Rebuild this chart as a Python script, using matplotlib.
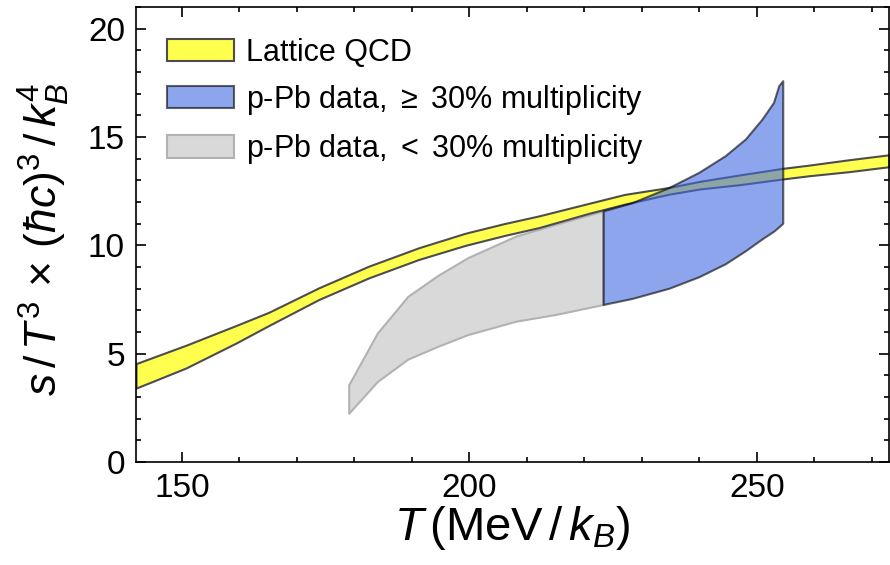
import numpy as np
import matplotlib
matplotlib.use("Agg")
import matplotlib.pyplot as plt
from matplotlib.ticker import MultipleLocator

plt.rcParams['font.family'] = ['Liberation Sans', 'DejaVu Sans']
plt.rcParams['mathtext.fontset'] = 'custom'
plt.rcParams['mathtext.rm'] = 'Liberation Sans'
plt.rcParams['mathtext.it'] = 'Liberation Sans:italic'
plt.rcParams['mathtext.bf'] = 'Liberation Sans:bold'
plt.rcParams['mathtext.fallback'] = 'stixsans'

# Lattice QCD band
lqcd_T = [142, 150.7, 159.4, 165.1, 173.8, 182.5, 191.2, 199.3, 206, 212.1,
          220.8, 227, 234.7, 240, 247, 254.4, 259, 266, 273]
lqcd_hi = [4.54, 5.39, 6.30, 6.91, 8.04, 9.04, 9.89, 10.56, 11.0, 11.36,
           11.94, 12.35, 12.67, 12.95, 13.25, 13.55, 13.70, 13.95, 14.18]
lqcd_lo = [3.41, 4.34, 5.49, 6.30, 7.50, 8.50, 9.35, 10.0, 10.45, 10.82,
           11.48, 11.90, 12.36, 12.60, 12.80, 13.06, 13.21, 13.40, 13.63]

# p-Pb data, >= 30% multiplicity
hi_T = [223.25, 228.3, 234.7, 239.9, 244.5, 248.0, 250.9, 252.9, 253.8, 254.5]
hi_up = [11.59, 11.97, 12.67, 13.37, 14.14, 14.91, 15.83, 16.6, 17.37, 17.6]
hi_lo = [7.27, 7.55, 8.02, 8.55, 9.15, 9.75, 10.3, 10.65, 10.85, 11.02]

# p-Pb data, < 30% multiplicity
lo_T = [179.0, 184.0, 189.3, 194.5, 199.7, 208.1, 215.0, 223.25]
lo_up = [3.56, 5.96, 7.65, 8.61, 9.43, 10.43, 10.97, 11.59]
lo_lo = [2.25, 3.72, 4.75, 5.34, 5.88, 6.50, 6.81, 7.27]

fig = plt.figure(figsize=(8.9, 5.65), dpi=100)
ax = fig.add_axes([0.1528, 0.1823, 0.8462, 0.8053])

ax.fill_between(lqcd_T, lqcd_lo, lqcd_hi, facecolor='#ffff4d',
                edgecolor='#4d4d4d', linewidth=1.5, label='Lattice QCD', zorder=2)
ax.fill_between(lo_T, lo_lo, lo_up, facecolor='#d9d9d9', edgecolor='#b2b2b2',
                linewidth=1.5, label=r'p-Pb data, $<$ 30% multiplicity', zorder=1)
ax.fill_between(hi_T, hi_lo, hi_up, facecolor='royalblue', alpha=0.6,
                edgecolor='k', linewidth=1.5,
                label=r'p-Pb data, $\geq$ 30% multiplicity', zorder=3)

ax.set_xlim(142, 273)
ax.set_ylim(0, 21)
ax.xaxis.set_major_locator(MultipleLocator(50))
ax.xaxis.set_minor_locator(MultipleLocator(10))
ax.yaxis.set_major_locator(MultipleLocator(5))
ax.yaxis.set_minor_locator(MultipleLocator(1))
ax.tick_params(which='both', direction='in', top=True, right=True,
               labelsize=24, width=1.2)
ax.tick_params(which='major', length=7, pad=8)
ax.tick_params(which='minor', length=3.5)
for sp in ax.spines.values():
    sp.set_linewidth(1.2)

ax.set_xlabel(r'$T\,(\mathrm{MeV}\,/\,k_B)$', fontsize=34, labelpad=0)
ax.set_ylabel(r'$s\,/\,T^3 \,\times\, (\hbar c)^3\,/\,k_B^4$', fontsize=32)
ax.yaxis.set_label_coords(-0.085, 0.49)

h, l = ax.get_legend_handles_labels()
order = [0, 2, 1]
ax.legend([h[i] for i in order], [l[i] for i in order], loc='upper left',
          frameon=False, fontsize=22, handlelength=2.2, handleheight=0.75,
          handletextpad=0.4, labelspacing=0.5, borderaxespad=0.6)

fig.savefig('out.png', dpi=100)
